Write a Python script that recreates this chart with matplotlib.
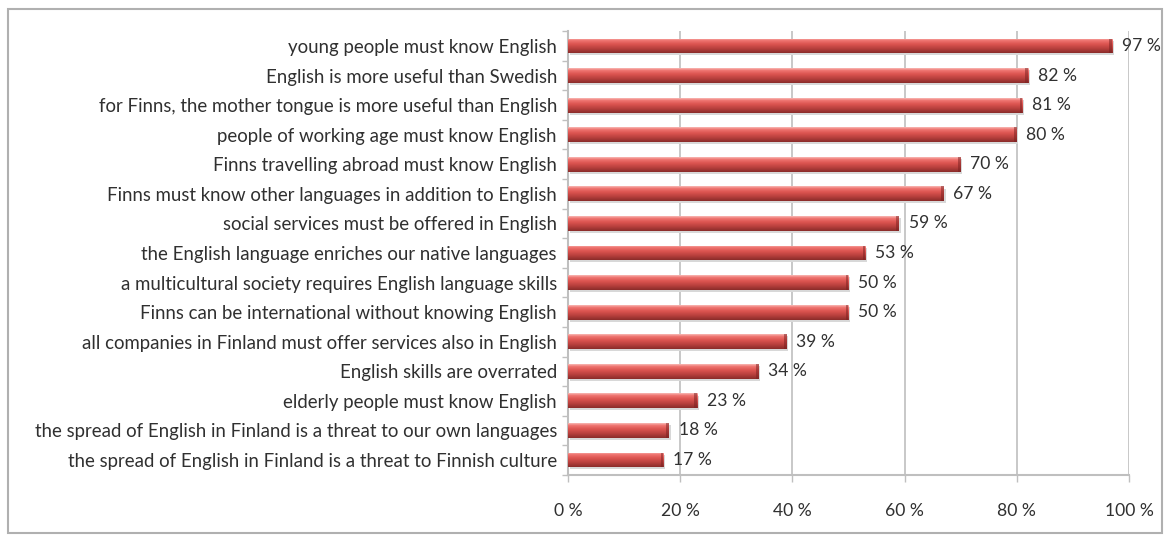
import matplotlib
matplotlib.use('Agg')
import matplotlib.pyplot as plt
import numpy as np
from matplotlib.colors import LinearSegmentedColormap
from matplotlib.patches import Rectangle

# ---------------------------------------------------------------------------
# data (top to bottom as in the chart)
# ---------------------------------------------------------------------------
statements = [
    'young people must know English',
    'English is more useful than Swedish',
    'for Finns, the mother tongue is more useful than English',
    'people of working age must know English',
    'Finns travelling abroad must know English',
    'Finns must know other languages in addition to English',
    'social services must be offered in English',
    'the English language enriches our native languages',
    'a multicultural society requires English language skills',
    'Finns can be international without knowing English',
    'all companies in Finland must offer services also in English',
    'English skills are overrated',
    'elderly people must know English',
    'the spread of English in Finland is a threat to our own languages',
    'the spread of English in Finland is a threat to Finnish culture',
]
shares = [97, 82, 81, 80, 70, 67, 59, 53, 50, 50, 39, 34, 23, 18, 17]
x_ticks = [0, 20, 40, 60, 80, 100]

plt.rcParams['font.family'] = ['Lato', 'DejaVu Sans']
txt_col = '#303030'
grid_col = '#bfbfbf'
fs = 13.4
fs_val = 12.6

fig = plt.figure(figsize=(11.69, 5.36), dpi=100)
ax = fig.add_axes([568/1169, 1 - 474.8/536, (1129 - 568)/1169, (474.8 - 31.2)/536])

ypos = np.arange(len(statements))[::-1]
bh = 0.5

# soft shadow under the bars
ax.barh(ypos - 0.07, shares, height=bh, left=0.3, color='#d8d8d8',
        edgecolor='none', zorder=2)
bars = ax.barh(ypos, shares, height=bh, color='#c0504d', edgecolor='none', zorder=3)

# cylinder-like shading on each bar
cmap = LinearSegmentedColormap.from_list('cyl', [
    (0.0, '#8a2c2a'), (0.3, '#b8403d'), (0.6, '#dc5450'),
    (0.85, '#ef7470'), (1.0, '#f8b8b4')])
grad = np.linspace(0, 1, 64).reshape(-1, 1)
for b in bars:
    x0, y0 = b.get_x(), b.get_y()
    w, h = b.get_width(), b.get_height()
    im = ax.imshow(grad, cmap=cmap, origin='lower', aspect='auto',
                   extent=[x0, x0 + w, y0, y0 + h], zorder=4,
                   interpolation='bilinear')
    im.set_clip_path(b)
    # darker cap at the right end
    ax.add_patch(Rectangle((x0 + w - 0.5, y0), 0.5, h, color='#7a2020',
                           alpha=0.5, lw=0, zorder=5))

for y, v in zip(ypos, shares):
    ax.text(v + 1.7, y, f'{v} %', va='center', ha='left', fontsize=fs_val,
            color=txt_col, zorder=6)

ax.set_xlim(0, 100)
ax.set_ylim(-0.5, len(statements) - 0.5)
ax.set_xticks(x_ticks)
ax.set_xticklabels([f'{t} %' for t in x_ticks], fontsize=fs_val, color=txt_col)
ax.set_yticks(ypos)
ax.set_yticklabels(statements, fontsize=fs, color=txt_col)
ax.set_yticks(np.arange(-0.5, len(statements), 1), minor=True)

ax.xaxis.grid(True, color=grid_col, lw=1.2, zorder=0)
ax.tick_params(axis='y', which='major', length=0, pad=8)
ax.tick_params(axis='y', which='minor', length=4, color=grid_col, width=1)
ax.tick_params(axis='x', length=5, color=grid_col, width=1, pad=15)

for s in ['top', 'right']:
    ax.spines[s].set_visible(False)
for s in ['left', 'bottom']:
    ax.spines[s].set_color(grid_col)
    ax.spines[s].set_linewidth(1.5)

# outer chart border
fig.patches.append(Rectangle((8/1169, 3/536), 1154/1169, 524/536,
                             transform=fig.transFigure, fill=False,
                             edgecolor='#b0b0b0', lw=1.5))

fig.savefig('out.png', dpi=100)
